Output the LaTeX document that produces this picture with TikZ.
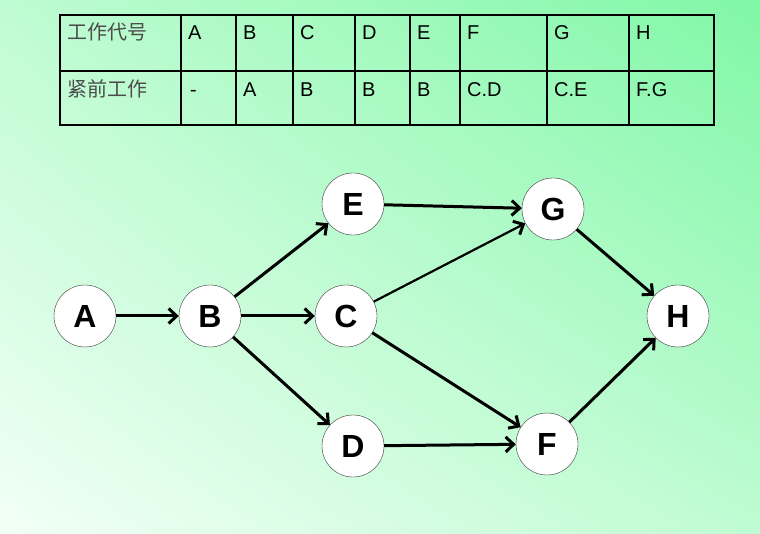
\documentclass[tikz,border=0pt]{standalone}
\usepackage{fontspec}
\setmainfont{Liberation Sans}
\newfontfamily\cjk{Noto Sans CJK SC}
\usetikzlibrary{arrows.meta,shadings}
\definecolor{bgA}{HTML}{F2FFF6}
\definecolor{bgB}{HTML}{80F7A6}
\begin{document}
\begin{tikzpicture}[x=1pt,y=-1pt,
  nd/.style={circle,draw=black!80,thin,fill=white,minimum size=62pt,inner sep=0pt,font=\fontsize{32}{32}\selectfont\bfseries},
  ar/.style={line width=3pt,-{Straight Barb[length=8pt,width=15pt,line width=3pt]}},
  tx/.style={anchor=base west,font=\fontsize{20}{20}\selectfont,inner sep=0pt}]
\useasboundingbox (0,0) rectangle (760,534);
\shade[lower left=bgA,upper right=bgB,lower right=bgA!55!bgB,upper left=bgA!55!bgB] (0,534) rectangle (760,0);
% table
\draw[line width=2pt] (60,15) rectangle (714,125);
\draw[line width=1.6pt] (60,71) -- (714,71);
\foreach \x in {181,236,293,355,410,460,547,629} \draw[line width=1.6pt] (\x,15) -- (\x,125);
\node[tx,font=\cjk\fontsize{20}{20}\selectfont,text=black!70] (h1) at (67,40) {工作代号};
\node[tx,font=\cjk\fontsize{20}{20}\selectfont,text=black!70] (h2) at (67,97) {紧前工作};
\foreach \x/\t [count=\i] in {188/A,243/B,300/C,362/D,417/E,467/F,554/G,636/H}
  \node[tx] (t\i) at (\x,40) {\t};
\foreach \x/\t [count=\i] in {190/-,243/A,300/B,362/B,417/B,467/C.D,554/C.E,636/F.G}
  \node[tx] (u\i) at (\x,97) {\t};
% graph
\node[nd] (A) at (85,316) {A};
\node[nd] (B) at (210,316) {B};
\node[nd] (C) at (346,316) {C};
\node[nd] (E) at (353,204) {E};
\node[nd] (D) at (353,446) {D};
\node[nd] (G) at (553,209) {G};
\node[nd] (F) at (547,444) {F};
\node[nd] (H) at (678,316) {H};
\draw[ar] (A) -- (B);
\draw[ar] (B) -- (C);
\draw[ar] (B) -- (E);
\draw[ar] (B) -- (D);
\draw[ar] (E) -- (G);
\draw[ar,line width=2.2pt] (C) -- (G);
\draw[ar] (C) -- (F);
\draw[ar] (D) -- (F);
\draw[ar] (G) -- (H);
\draw[ar] (F) -- (H);
\end{tikzpicture}
\end{document}
